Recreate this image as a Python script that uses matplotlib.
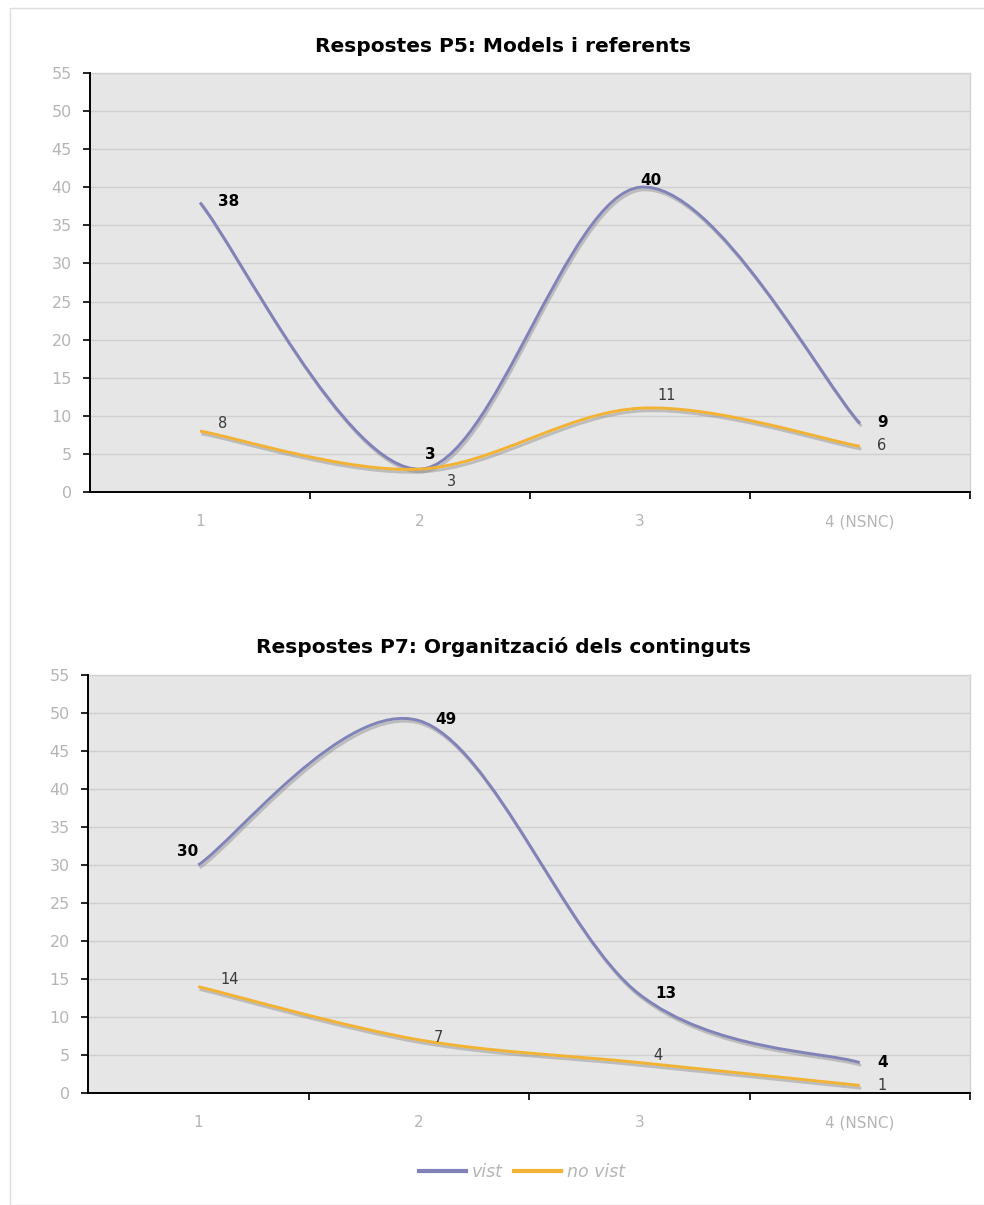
"""
Two smoothed line charts: answers to P5 and P7, "vist" vs "no vist".
"""

import matplotlib
matplotlib.use("Agg")
import matplotlib.pyplot as plt
import matplotlib.patheffects as pe
from matplotlib.lines import Line2D
from matplotlib.patches import PathPatch, Rectangle
from matplotlib.path import Path

# ── Data ──────────────────────────────────────────────────────────────────────
CATEGORIES = ["1", "2", "3", "4 (NSNC)"]
SERIES_NAMES = ["vist", "no vist"]

P5_TITLE = "Respostes P5: Models i referents"
P5_VIST = [38, 3, 40, 9]
P5_NO_VIST = [8, 3, 11, 6]

P7_TITLE = "Respostes P7: Organització dels continguts"
P7_VIST = [30, 49, 13, 4]
P7_NO_VIST = [14, 7, 4, 1]

Y_TICKS = list(range(0, 56, 5))

# label offsets in pixels (dx, dy) per point
P5_VIST_OFF = [(29, 1), (10, 15), (11, 7), (23, 1)]
P5_NO_OFF = [(23, 8), (31, -12), (27, 13), (22, 1)]
P7_VIST_OFF = [(-11, 13), (27, 1), (27, 1), (23, 0)]
P7_NO_OFF = [(31, 7), (20, 2), (19, 7), (22, 0)]

# ── Colours ───────────────────────────────────────────────────────────────────
COL_VIST = "#8183b8"
COL_NO = "#f2b233"
COL_PLOT_BG = "#e6e6e6"
COL_GRID = "#cfcfcf"
COL_TICK = "#b5b5b5"
COL_LABEL_NO = "#3a3a3a"

W, H = 984, 1205


def smooth_path(xs, ys):
    """Excel-like smoothed line: cubic Bezier segments (Catmull-Rom)."""
    pts = list(zip(xs, ys))
    verts = [pts[0]]
    codes = [Path.MOVETO]
    n = len(pts)
    for i in range(n - 1):
        p0 = pts[i - 1] if i > 0 else pts[i]
        p1 = pts[i]
        p2 = pts[i + 1]
        p3 = pts[i + 2] if i + 2 < n else pts[i + 1]
        c1 = (p1[0] + (p2[0] - p0[0]) / 6, p1[1] + (p2[1] - p0[1]) / 6)
        c2 = (p2[0] - (p3[0] - p1[0]) / 6, p2[1] - (p3[1] - p1[1]) / 6)
        verts += [c1, c2, p2]
        codes += [Path.CURVE4] * 3
    return Path(verts, codes)


def draw_series(ax, values, colour):
    xs = list(range(1, len(values) + 1))
    patch = PathPatch(
        smooth_path(xs, values), fill=False, edgecolor=colour, lw=2.1,
        capstyle="butt", joinstyle="round", zorder=3,
        path_effects=[pe.SimpleLineShadow(offset=(1, -2), shadow_color="#8a8a8a",
                                          alpha=0.45),
                      pe.Normal()])
    ax.add_patch(patch)


def label_points(ax, values, offsets, bold, colour):
    for i, (v, (dx, dy)) in enumerate(zip(values, offsets)):
        ax.annotate(str(v), (i + 1, v), xytext=(dx, dy),
                    textcoords="offset pixels", ha="center", va="center",
                    fontsize=11 if bold else 10.5,
                    fontweight="bold" if bold else "normal",
                    color=colour, zorder=5)


def draw_panel(fig, ax, title, title_y, vist, no_vist, vist_off, no_off):
    ax.set_facecolor(COL_PLOT_BG)
    ax.set_xlim(0.5, 4.5)
    ax.set_ylim(0, 55)
    ax.set_yticks(Y_TICKS)
    ax.set_xticks([1.5, 2.5, 3.5, 4.5], minor=False)
    ax.set_xticklabels([])
    ax.set_xticks([1, 2, 3, 4], minor=True)
    ax.set_xticklabels(CATEGORIES, minor=True)
    ax.tick_params(axis="x", which="minor", length=0, pad=16,
                   labelsize=11, labelcolor=COL_TICK)
    ax.tick_params(axis="x", which="major", length=5, width=1.2,
                   direction="out", color="black")
    ax.tick_params(axis="y", length=5, width=1.2, direction="out",
                   labelsize=11.5, labelcolor=COL_TICK, pad=8)
    ax.grid(axis="y", color=COL_GRID, lw=1.0)
    ax.set_axisbelow(True)
    for side in ("left", "bottom"):
        ax.spines[side].set_color("black")
        ax.spines[side].set_linewidth(1.4)
        ax.spines[side].set_zorder(4)
    for side in ("top", "right"):
        ax.spines[side].set_color("#d2d2d2")
        ax.spines[side].set_linewidth(1.0)

    draw_series(ax, vist, COL_VIST)
    draw_series(ax, no_vist, COL_NO)
    label_points(ax, vist, vist_off, True, "black")
    label_points(ax, no_vist, no_off, False, COL_LABEL_NO)
    fig.text(503 / W, 1 - title_y / H, title, ha="center", va="center",
             fontsize=14.5, fontweight="bold")


def main():
    fig = plt.figure(figsize=(W / 100, H / 100), dpi=100)

    # light outer frame of the chart area
    fig.patches.append(Rectangle((10 / W, 0), 1.2, 1 - 8 / H, transform=fig.transFigure,
                                 fill=False, edgecolor="#dedede", lw=1.0))

    ax_top = fig.add_axes([90 / W, 1 - 492 / H, 880 / W, 419 / H])
    ax_bot = fig.add_axes([88 / W, 1 - 1093 / H, 882 / W, 418 / H])

    draw_panel(fig, ax_top, P5_TITLE, 46, P5_VIST, P5_NO_VIST, P5_VIST_OFF, P5_NO_OFF)
    draw_panel(fig, ax_bot, P7_TITLE, 647, P7_VIST, P7_NO_VIST, P7_VIST_OFF, P7_NO_OFF)

    handles = [Line2D([], [], color=COL_VIST, lw=3),
               Line2D([], [], color=COL_NO, lw=3)]
    leg = fig.legend(handles, SERIES_NAMES, loc="center", ncol=2,
                     bbox_to_anchor=(522 / W, 1 - 1172 / H), frameon=False,
                     handlelength=2.7, handletextpad=0.35, columnspacing=0.6,
                     prop={"size": 12.5, "style": "italic"})
    for t in leg.get_texts():
        t.set_color(COL_TICK)

    fig.savefig("out.png", dpi=100)


if __name__ == "__main__":
    main()
